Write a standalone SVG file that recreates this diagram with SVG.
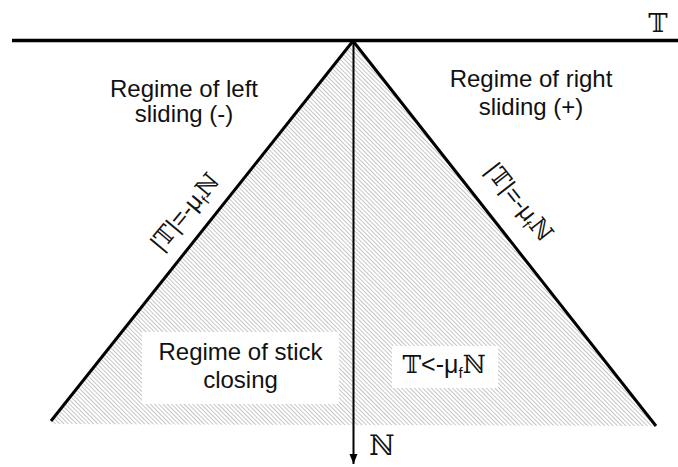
<svg xmlns="http://www.w3.org/2000/svg" width="678" height="467" viewBox="0 0 678 467">
<defs>
<pattern id="hatch" patternUnits="userSpaceOnUse" width="3" height="3" patternTransform="rotate(-45)">
<rect width="3" height="3" fill="#ffffff"/>
<line x1="0" y1="0" x2="0" y2="3" stroke="#a0a0a0" stroke-width="1.2"/>
</pattern>
<marker id="arr" markerWidth="12" markerHeight="12" refX="10" refY="5" orient="auto" markerUnits="userSpaceOnUse">
<path d="M0,1 L10,5 L0,9 z" fill="#000"/>
</marker>
<style>
.t{font-family:"Liberation Sans",Arial,sans-serif;font-size:24px;fill:#111;text-anchor:middle}
.s{font-family:"Liberation Sans",Arial,sans-serif;fill:#111}
.m{font-family:"DejaVu Serif","DejaVu Sans",serif;fill:#111}
.ln{stroke:#000;stroke-width:3;fill:none}
</style>
</defs>
<rect width="678" height="467" fill="#fff"/>
<g id="region">
<polygon points="353,41 51,424 656,426" fill="url(#hatch)"/>
</g>
<g id="connectors">
<line x1="12" y1="40.5" x2="678" y2="40.5" stroke="#000" stroke-width="3.5"/>
<line class="ln" x1="353" y1="41" x2="51" y2="421"/>
<line class="ln" x1="353" y1="41" x2="656" y2="426"/>
<line x1="353.5" y1="41" x2="353.5" y2="464" stroke="#000" stroke-width="2" marker-end="url(#arr)"/>
</g>
<g id="axisT"><text class="m" x="658" y="32" font-size="26" text-anchor="middle">𝕋</text></g>
<g id="axisN"><text class="m" x="382" y="455" font-size="28" text-anchor="middle">ℕ</text></g>
<g id="left-sliding">
<text class="t" x="184" y="97">Regime of left</text>
<text class="t" x="184" y="122">sliding (-)</text>
</g>
<g id="right-sliding">
<text class="t" x="531" y="87">Regime of right</text>
<text class="t" x="531" y="115">sliding (+)</text>
</g>
<g id="stick">
<rect x="142" y="332" width="197" height="72" fill="#fff"/>
<text class="t" x="240.5" y="360">Regime of stick</text>
<text class="t" x="240.5" y="388">closing</text>
</g>
<g id="ineq">
<rect x="392" y="346" width="106" height="42" fill="#fff"/>
<text x="444" y="373" text-anchor="middle" font-size="25"><tspan class="m">𝕋</tspan><tspan class="s">&lt;-μ</tspan><tspan class="s" font-size="15" dy="5">f</tspan><tspan class="m" dy="-5">ℕ</tspan></text>
</g>
<g id="left-label">
<text transform="translate(191,217) rotate(-50)" text-anchor="middle" font-size="24"><tspan class="s">|</tspan><tspan class="m">𝕋</tspan><tspan class="s">|=-μ</tspan><tspan class="s" font-size="14" dy="5">f</tspan><tspan class="m" dy="-5">ℕ</tspan></text>
</g>
<g id="right-label">
<text transform="translate(513,207) rotate(51.8)" text-anchor="middle" font-size="24"><tspan class="s">|</tspan><tspan class="m">𝕋</tspan><tspan class="s">|=-μ</tspan><tspan class="s" font-size="14" dy="5">f</tspan><tspan class="m" dy="-5">ℕ</tspan></text>
</g>
</svg>
